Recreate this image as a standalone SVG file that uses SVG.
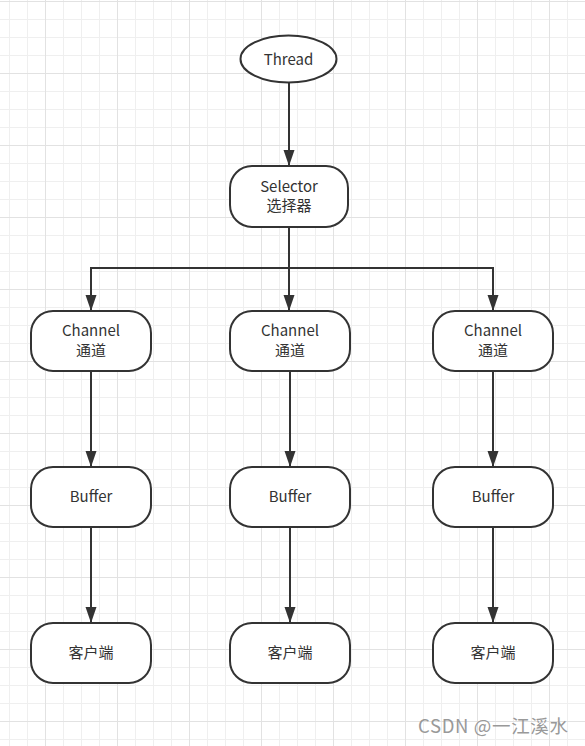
<svg xmlns="http://www.w3.org/2000/svg" width="585" height="746" viewBox="0 0 585 746">
<defs>
<pattern id="minor" width="18" height="18" patternUnits="userSpaceOnUse" x="9" y="1">
<path d="M0 0.5H18M0.5 0V18" fill="none" stroke="#efefef" stroke-width="1"/>
</pattern>
<pattern id="major" width="72" height="72" patternUnits="userSpaceOnUse" x="45" y="1">
<path d="M0 0.5H72M0.5 0V72" fill="none" stroke="#e2e2e2" stroke-width="1"/>
</pattern>
<marker id="arr" markerWidth="16" markerHeight="12" refX="16" refY="6" orient="auto" markerUnits="userSpaceOnUse">
<path d="M0 0.5L16 6L0 11.5Z" fill="#333"/>
</marker>
</defs>
<style>
.n{fill:#fff;stroke:#333;stroke-width:2}
.t{font-family:"Noto Sans CJK SC","Noto Sans",sans-serif;font-size:15px;fill:#333;text-anchor:middle}
.c{fill:none;stroke:#333;stroke-width:2}
</style>
<rect width="585" height="746" fill="#fff"/>
<rect width="585" height="746" fill="url(#minor)"/>
<rect width="585" height="746" fill="url(#major)"/>
<g id="connectors">
<path class="c" d="M289 83V166" marker-end="url(#arr)"/>
<path class="c" d="M289 227V311" marker-end="url(#arr)"/>
<path class="c" d="M91 311V268H493V311" />
<path class="c" d="M91 268V311" marker-end="url(#arr)"/>
<path class="c" d="M493 268V311" marker-end="url(#arr)"/>
<path class="c" d="M91 371V467" marker-end="url(#arr)"/>
<path class="c" d="M290 371V467" marker-end="url(#arr)"/>
<path class="c" d="M493 371V467" marker-end="url(#arr)"/>
<path class="c" d="M91 527V623" marker-end="url(#arr)"/>
<path class="c" d="M290 527V623" marker-end="url(#arr)"/>
<path class="c" d="M493 527V623" marker-end="url(#arr)"/>
</g>
<g id="thread"><ellipse class="n" cx="288.5" cy="59" rx="48" ry="23.5"/><text class="t" x="288.5" y="64.5">Thread</text></g>
<g id="selector"><rect class="n" x="230" y="166" width="118" height="61" rx="22"/><text class="t" x="289" y="192">Selector</text><text class="t" x="289" y="211">选择器</text></g>
<g id="channel1"><rect class="n" x="31" y="311" width="120" height="60" rx="22"/><text class="t" x="91" y="336">Channel</text><text class="t" x="91" y="356">通道</text></g>
<g id="channel2"><rect class="n" x="230" y="311" width="120" height="60" rx="22"/><text class="t" x="290" y="336">Channel</text><text class="t" x="290" y="356">通道</text></g>
<g id="channel3"><rect class="n" x="433" y="311" width="120" height="60" rx="22"/><text class="t" x="493" y="336">Channel</text><text class="t" x="493" y="356">通道</text></g>
<g id="buffer1"><rect class="n" x="31" y="467" width="120" height="60" rx="22"/><text class="t" x="91" y="502">Buffer</text></g>
<g id="buffer2"><rect class="n" x="230" y="467" width="120" height="60" rx="22"/><text class="t" x="290" y="502">Buffer</text></g>
<g id="buffer3"><rect class="n" x="433" y="467" width="120" height="60" rx="22"/><text class="t" x="493" y="502">Buffer</text></g>
<g id="client1"><rect class="n" x="31" y="623" width="120" height="60" rx="22"/><text class="t" x="91" y="658">客户端</text></g>
<g id="client2"><rect class="n" x="230" y="623" width="120" height="60" rx="22"/><text class="t" x="290" y="658">客户端</text></g>
<g id="client3"><rect class="n" x="433" y="623" width="120" height="60" rx="22"/><text class="t" x="493" y="658">客户端</text></g>
<text x="418" y="733" font-family="'Noto Sans CJK SC','Noto Sans',sans-serif" font-size="18.5" fill="#999" textLength="150" lengthAdjust="spacing">CSDN @一江溪水</text>
</svg>
